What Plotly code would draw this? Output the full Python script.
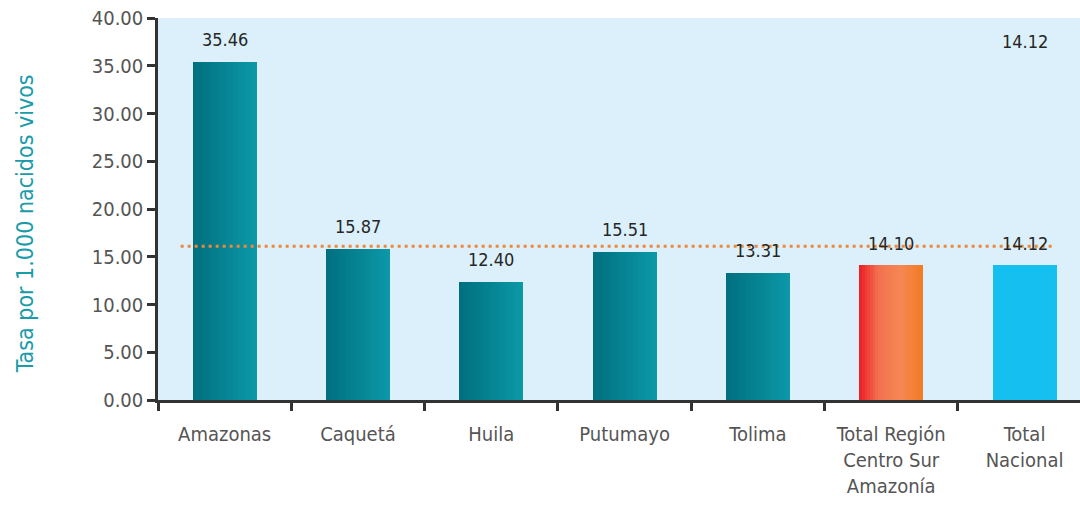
import plotly.graph_objects as go

# Data
departamentos = ["Amazonas", "Caquetá", "Huila", "Putumayo", "Tolima",
                 "Total Región<br>Centro Sur<br>Amazonía", "Total<br>Nacional"]
tasas = [35.46, 15.87, 12.40, 15.51, 13.31, 14.10, 14.12]
etiquetas = ["35.46", "15.87", "12.40", "15.51", "13.31", "14.10", "14.12"]
y_ticks = [0, 5, 10, 15, 20, 25, 30, 35, 40]
linea_referencia = 16.1
etiqueta_suelta = "14.12"

FONT = "DejaVu Sans Condensed, Liberation Sans Narrow, sans-serif"

# gradient stops (left -> right) for each bar group
grad_teal = [(0.0, (0, 111, 126)), (1.0, (12, 153, 168))]
grad_region = [(0.0, (237, 30, 36)), (0.3, (242, 113, 80)), (0.65, (245, 135, 82)), (1.0, (243, 122, 34))]
grad_nacional = [(0.0, (21, 192, 241)), (1.0, (21, 192, 241))]
gradientes = [grad_teal] * 5 + [grad_region, grad_nacional]


def color_en(stops, t):
    for (t0, c0), (t1, c1) in zip(stops, stops[1:]):
        if t <= t1:
            f = (t - t0) / (t1 - t0) if t1 > t0 else 0
            c = [round(a + (b - a) * f) for a, b in zip(c0, c1)]
            return f"rgb({c[0]},{c[1]},{c[2]})"
    c = stops[-1][1]
    return f"rgb({c[0]},{c[1]},{c[2]})"


bar_w = 0.48
n_strips = 24
strip_w = bar_w / n_strips

fig = go.Figure()
for i in range(n_strips):
    t = (i + 0.5) / n_strips
    fig.add_trace(go.Bar(
        x=departamentos,
        y=tasas,
        offset=-bar_w / 2 + i * strip_w,
        width=strip_w * (1.15 if i < n_strips - 1 else 1.0),
        marker=dict(color=[color_en(g, t) for g in gradientes], line_width=0),
        showlegend=False,
        hoverinfo="skip" if i else "x+y",
    ))

lab_font = dict(family=FONT, size=18, color="#262626")
for dep, val, lab in zip(departamentos, tasas, etiquetas):
    fig.add_annotation(x=dep, y=val, text=lab, showarrow=False, yshift=22, font=lab_font)

fig.add_annotation(x=departamentos[-1], y=0.97, yref="paper", text=etiqueta_suelta,
                   showarrow=False, font=lab_font)

# y-axis title, placed by hand so it sits a little below centre like the original
fig.add_annotation(x=0, xref="paper", xanchor="center", xshift=-133, y=0.46, yref="paper",
                   text="Tasa por 1.000 nacidos vivos", textangle=-90, showarrow=False,
                   font=dict(family=FONT, size=23, color="#1A9BAA"))

fig.add_shape(type="line", xref="x", yref="y", x0=-0.33, x1=6.21,
              y0=linea_referencia, y1=linea_referencia,
              line=dict(color="#F0873A", width=3, dash="3px,4px"))

tick_font = dict(family=FONT, size=20, color="#555555")

fig.update_layout(
    width=1080, height=508,
    barmode="overlay",
    bargap=0,
    plot_bgcolor="#DBF0FA",
    paper_bgcolor="white",
    margin=dict(l=158, r=0, t=18, b=108),
    font=dict(family=FONT, size=20, color="#555555"),
    xaxis=dict(
        range=[-0.5, 6.416],
        showline=True, linecolor="#333333", linewidth=2.5,
        ticks="outside", tickson="boundaries", ticklen=8, tickwidth=2.5, tickcolor="#333333",
        tickfont=tick_font, ticklabelstandoff=14,
        showgrid=False,
    ),
    yaxis=dict(
        range=[0, 40.02], tickvals=y_ticks, tickformat=".2f",
        showline=True, linecolor="#333333", linewidth=2.5,
        ticks="outside", ticklen=8, tickwidth=2.5, tickcolor="#333333",
        tickfont=tick_font,
        showgrid=False, zeroline=False,
    ),
)

# drop the default 8px page margin so the figure fills the window
fig.write_html("out.html", config={"displayModeBar": False},
               post_script="document.body.style.margin='0';")
